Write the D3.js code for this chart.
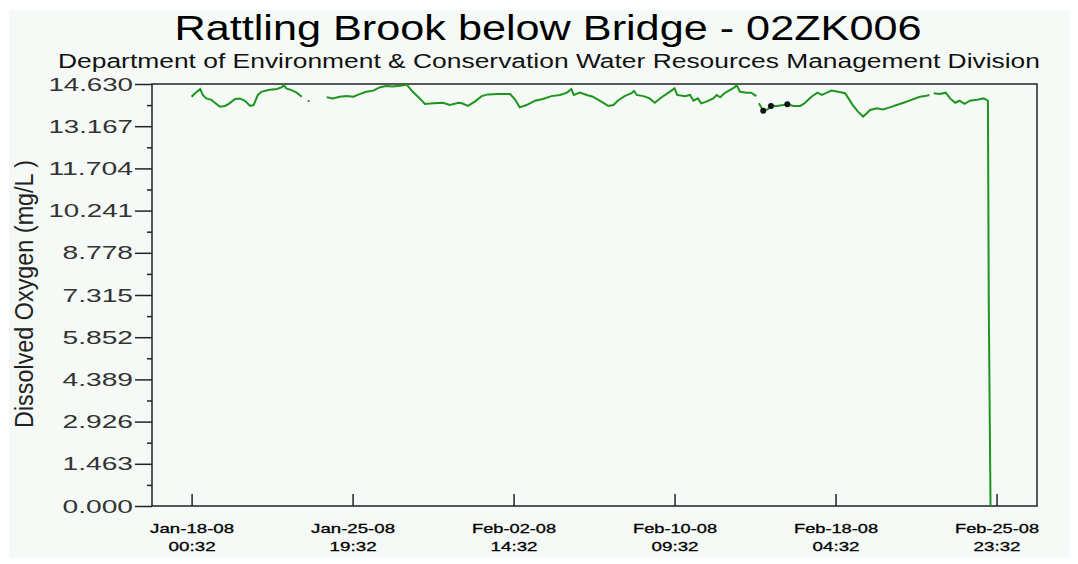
<!DOCTYPE html>
<html>
<head>
<meta charset="utf-8">
<script src="https://cdn.jsdelivr.net/npm/d3@7"></script>
<style>
	body { margin: 0; background: #fff; }
	svg { display: block; font-family: "Liberation Sans", Arial, sans-serif; }
</style>
</head>
<body>
<div id="chart"></div>
<script>
// readings start Jan-18-08 00:32, times are hours after that
var startTime = Date.UTC(2008, 0, 18, 0, 32);

var hours = [0, 4, 10, 13, 17, 23, 27, 33, 39, 44, 50, 56, 62, 68, 72, 77, 81, 89, 99, 105, 107, 110, 116, 122, 128, 130,
	135, 137, 139,
	157, 164, 172, 180, 188, 195, 203, 211, 219, 226, 234, 242, 250, 257, 265, 271, 281, 292, 300, 310, 314, 321, 329,
	337, 344, 356, 370, 376, 381, 389, 399, 408, 418, 428, 436, 441, 444, 451, 459, 466, 474, 484, 490, 495, 503, 511,
	514, 517, 525, 532, 538, 546, 554, 561, 564, 573, 579, 583, 588, 592, 598, 606, 610, 614, 619, 627, 631, 633, 637,
	645, 650, 656, 657,
	659, 664, 669, 673, 680, 687, 692, 699, 707, 712, 720, 727, 732, 738, 743, 751, 759, 763, 768, 774, 780, 784, 788,
	796, 803, 811, 819, 827, 836, 846, 852, 857, 859,
	862, 869, 876, 881, 887, 892, 898, 904, 912, 920, 925, 926, 928];

var oxygen = [14.19, 14.31, 14.45, 14.25, 14.13, 14.08, 13.98, 13.84, 13.87, 13.96, 14.10, 14.13, 14.05, 13.87, 13.90,
	14.25, 14.36, 14.42, 14.46, 14.52, 14.60, 14.48, 14.42, 14.33, 14.19, null,
	14.04, 14.04, null,
	14.17, 14.13, 14.19, 14.21, 14.19, 14.28, 14.36, 14.40, 14.52, 14.56, 14.54, 14.57, 14.60, 14.36, 14.13, 13.94,
	13.96, 13.98, 13.90, 13.98, 13.96, 13.87, 14.02, 14.21, 14.27, 14.28, 14.28, 14.08, 13.82, 13.90, 14.05, 14.11,
	14.21, 14.25, 14.33, 14.45, 14.25, 14.33, 14.25, 14.19, 14.05, 13.87, 13.90, 14.05, 14.21, 14.31, 14.39, 14.25,
	14.21, 14.13, 13.98, 14.17, 14.33, 14.48, 14.25, 14.21, 14.25, 14.05, 14.13, 13.96, 14.02, 14.13, 14.25, 14.17,
	14.31, 14.45, 14.52, 14.60, 14.36, 14.33, 14.33, 14.21, null,
	13.96, 13.70, 13.75, 13.87, 13.87, 13.90, 13.93, 13.87, 13.87, 13.96, 14.19, 14.33, 14.25, 14.33, 14.40, 14.36,
	14.31, 14.13, 13.90, 13.67, 13.50, 13.61, 13.73, 13.79, 13.75, 13.82, 13.90, 13.98, 14.08, 14.19, 14.21, 14.25, null,
	14.31, 14.28, 14.33, 14.13, 13.98, 14.05, 13.94, 14.05, 14.08, 14.13, 14.05, 6.90, 0.00];

// readings marked with a black dot
var flaggedHours = [664, 673, 692];

var yTicks = [0.000, 1.463, 2.926, 4.389, 5.852, 7.315, 8.778, 10.241, 11.704, 13.167, 14.630];
var xTicks = [Date.UTC(2008, 0, 18, 0, 32), Date.UTC(2008, 0, 25, 19, 32), Date.UTC(2008, 1, 2, 14, 32),
	Date.UTC(2008, 1, 10, 9, 32), Date.UTC(2008, 1, 18, 4, 32), Date.UTC(2008, 1, 25, 23, 32)];
var xDomain = [Date.UTC(2008, 0, 16, 2, 32), Date.UTC(2008, 1, 27, 22, 32)];

var titleText = 'Rattling Brook below Bridge - 02ZK006';
var subtitleText = 'Department of Environment & Conservation Water Resources Management Division';
var yLabel = 'Dissolved Oxygen (mg/L )';

var data = hours.map(function(h, i) {
	return { date: new Date(startTime + h * 3600000), value: oxygen[i], hour: h };
});

createChart(data);

function createChart(data) {
	var W = 1078, H = 564;
	var margin = {top: 84, right: 41, bottom: 58, left: 152},
		width = W - margin.left - margin.right,
		height = H - margin.top - margin.bottom;

	var svg = d3.select('#chart').append('svg')
		.attr('width', W)
		.attr('height', H);

	svg.append('rect')
		.attr('x', 9).attr('y', 10)
		.attr('width', 1061).attr('height', 548)
		.attr('fill', '#f5faf6');

	svg.append('text')
		.attr('x', 548).attr('y', 40)
		.attr('text-anchor', 'middle')
		.attr('font-size', 35)
		.attr('textLength', 747)
		.attr('lengthAdjust', 'spacingAndGlyphs')
		.attr('fill', '#000')
		.text(titleText);

	svg.append('text')
		.attr('x', 549).attr('y', 68)
		.attr('text-anchor', 'middle')
		.attr('font-size', 20)
		.attr('textLength', 982)
		.attr('lengthAdjust', 'spacingAndGlyphs')
		.attr('fill', '#111')
		.text(subtitleText);

	svg.append('text')
		.attr('transform', 'translate(33,294) rotate(-90)')
		.attr('text-anchor', 'middle')
		.attr('font-size', 25)
		.attr('textLength', 268)
		.attr('lengthAdjust', 'spacingAndGlyphs')
		.attr('fill', '#222')
		.text(yLabel);

	var g = svg.append('g')
		.attr('transform', 'translate(' + margin.left + ',' + margin.top + ')');

	var x = d3.scaleUtc()
		.domain(xDomain)
		.range([0, width]);

	var y = d3.scaleLinear()
		.domain([0, 14.63])
		.range([height, 0]);

	// minor y ticks halfway between the labelled ones
	var minor = yTicks.slice(1).map(function(t, i) { return (t + yTicks[i]) / 2; });

	g.append('g')
		.attr('class', 'y-minor')
		.call(d3.axisLeft(y).tickValues(minor).tickSize(5).tickFormat('').tickSizeOuter(0));

	var yAxis = g.append('g')
		.attr('class', 'y-axis')
		.call(d3.axisLeft(y).tickValues(yTicks).tickSize(17).tickPadding(2).tickFormat(d3.format('.3f')).tickSizeOuter(0));

	yAxis.selectAll('text')
		.attr('font-size', 19)
		.attr('fill', '#333')
		.attr('lengthAdjust', 'spacingAndGlyphs')
		.attr('textLength', function() { return this.textContent.length * 14.1; });

	var xAxis = g.append('g')
		.attr('class', 'x-axis')
		.attr('transform', 'translate(0,' + height + ')')
		.call(d3.axisBottom(x).tickValues(xTicks.map(function(t) { return new Date(t); }))
			.tickSize(-12).tickFormat('').tickSizeOuter(0));

	var fmtDay = d3.utcFormat('%b-%d-%y'),
		fmtTime = d3.utcFormat('%H:%M');

	var labels = xAxis.selectAll('.tick').append('g');

	labels.append('text')
		.attr('y', 27)
		.attr('text-anchor', 'middle')
		.attr('font-size', 13)
		.attr('fill', '#000')
		.attr('stroke', '#000')
		.attr('stroke-width', 0.3)
		.attr('textLength', 84)
		.attr('lengthAdjust', 'spacingAndGlyphs')
		.text(function(d) { return fmtDay(d); });

	labels.append('text')
		.attr('y', 45)
		.attr('text-anchor', 'middle')
		.attr('font-size', 13)
		.attr('fill', '#000')
		.attr('stroke', '#000')
		.attr('stroke-width', 0.3)
		.attr('textLength', 47)
		.attr('lengthAdjust', 'spacingAndGlyphs')
		.text(function(d) { return fmtTime(d); });

	svg.selectAll('.domain').remove();
	svg.selectAll('.tick line').attr('stroke', '#222').attr('stroke-width', 1.5);

	g.append('rect')
		.attr('width', width)
		.attr('height', height)
		.attr('fill', 'none')
		.attr('stroke', '#222')
		.attr('stroke-width', 1.5);

	var line = d3.line()
		.defined(function(d) { return d.value !== null; })
		.x(function(d) { return x(d.date); })
		.y(function(d) { return y(d.value); });

	g.append('path')
		.datum(data)
		.attr('d', line)
		.attr('fill', 'none')
		.attr('stroke', '#1e951e')
		.attr('stroke-width', 2);

	var flagged = data.filter(function(d) { return flaggedHours.indexOf(d.hour) >= 0; });

	g.selectAll('.flag')
		.data(flagged)
		.enter()
		.append('circle')
		.attr('class', 'flag')
		.attr('cx', function(d) { return x(d.date); })
		.attr('cy', function(d) { return y(d.value); })
		.attr('r', 3)
		.attr('fill', '#111');
}
</script>
</body>
</html>
